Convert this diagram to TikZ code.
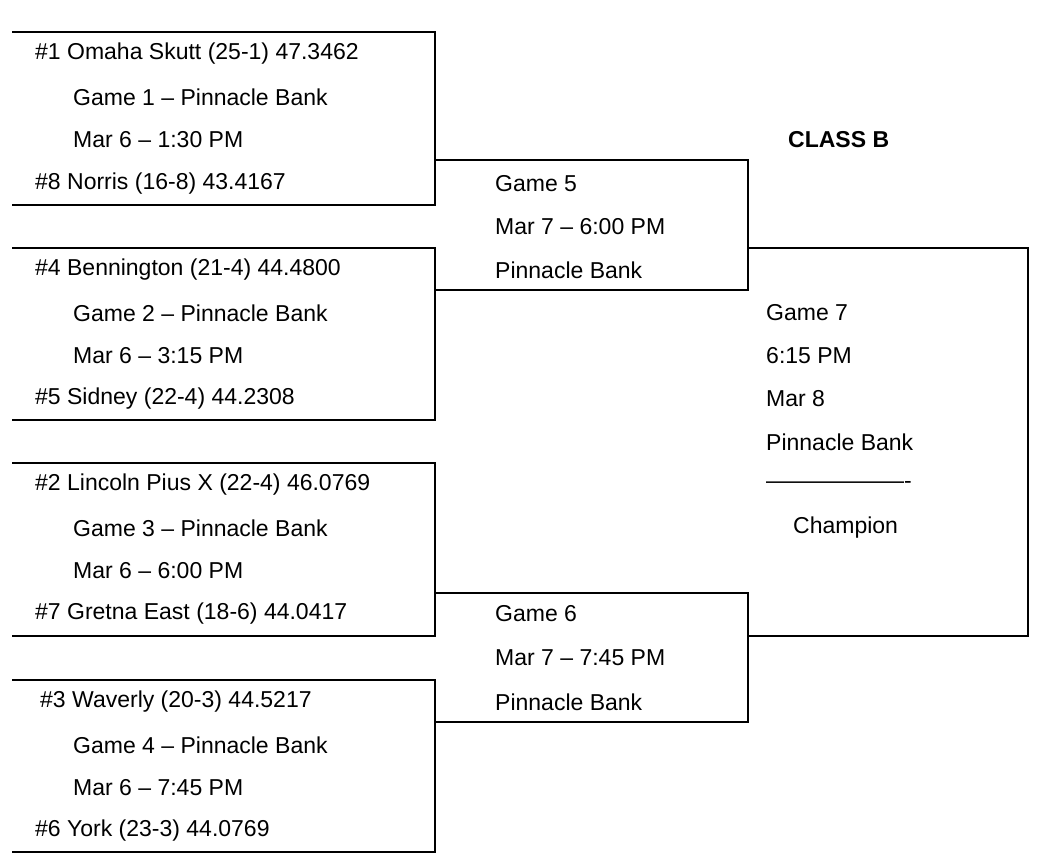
\documentclass[tikz,border=0pt]{standalone}
\usepackage{fontspec}
\setmainfont{Liberation Sans}
\begin{document}
\begin{tikzpicture}[x=1pt,y=-1pt,
  lbl/.style={anchor=west,inner sep=0pt,font=\fontsize{23}{23}\selectfont},
  ln/.style={line width=1.5pt,black}]
\useasboundingbox (0,0) rectangle (1064,855);
% brackets
\draw[ln] (12,32) -- (435,32) -- (435,205) -- (12,205);
\draw[ln] (12,248) -- (435,248) -- (435,420) -- (12,420);
\draw[ln] (12,463) -- (435,463) -- (435,636) -- (12,636);
\draw[ln] (12,680) -- (435,680) -- (435,852) -- (12,852);
\draw[ln] (435,160) -- (748,160) -- (748,290) -- (435,290);
\draw[ln] (435,593) -- (748,593) -- (748,722) -- (435,722);
\draw[ln] (748,248) -- (1028,248) -- (1028,636) -- (748,636);
% texts
\node[lbl] (t1) at (35,54) {\#1 Omaha Skutt (25-1) 47.3462};
\node[lbl] (t2) at (73,97) {Game 1 -- Pinnacle Bank};
\node[lbl] (t3) at (73,140) {Mar 6 -- 1:30 PM};
\node[lbl] (t4) at (35,184) {\#8 Norris (16-8) 43.4167};
\node[lbl] (t5) at (35,270) {\#4 Bennington (21-4) 44.4800};
\node[lbl] (t6) at (73,313) {Game 2 -- Pinnacle Bank};
\node[lbl] (t7) at (73,356) {Mar 6 -- 3:15 PM};
\node[lbl] (t8) at (35,399) {\#5 Sidney (22-4) 44.2308};
\node[lbl] (t9) at (35,485) {\#2 Lincoln Pius X (22-4) 46.0769};
\node[lbl] (t10) at (73,528) {Game 3 -- Pinnacle Bank};
\node[lbl] (t11) at (73,571) {Mar 6 -- 6:00 PM};
\node[lbl] (t12) at (35,614) {\#7 Gretna East (18-6) 44.0417};
\node[lbl] (t13) at (40,702) {\#3 Waverly (20-3) 44.5217};
\node[lbl] (t14) at (73,745) {Game 4 -- Pinnacle Bank};
\node[lbl] (t15) at (73,788) {Mar 6 -- 7:45 PM};
\node[lbl] (t16) at (35,831) {\#6 York (23-3) 44.0769};
\node[lbl] (g5a) at (495,184) {Game 5};
\node[lbl] (g5b) at (495,227) {Mar 7 -- 6:00 PM};
\node[lbl] (g5c) at (495,270) {Pinnacle Bank};
\node[lbl] (g6a) at (495,614) {Game 6};
\node[lbl] (g6b) at (495,658) {Mar 7 -- 7:45 PM};
\node[lbl] (g6c) at (495,702) {Pinnacle Bank};
\node[lbl] (g7a) at (766,313) {Game 7};
\node[lbl] (g7b) at (766,356) {6:15 PM};
\node[lbl] (g7c) at (766,399) {Mar 8};
\node[lbl] (g7d) at (766,442) {Pinnacle Bank};
\node[lbl] (g7e) at (766,485) {-------------------};
\node[lbl] (g7f) at (793,528) {Champion};
\node[lbl,font=\bfseries\fontsize{23}{23}\selectfont] (cls) at (788,140) {CLASS B};
\end{tikzpicture}
\end{document}
